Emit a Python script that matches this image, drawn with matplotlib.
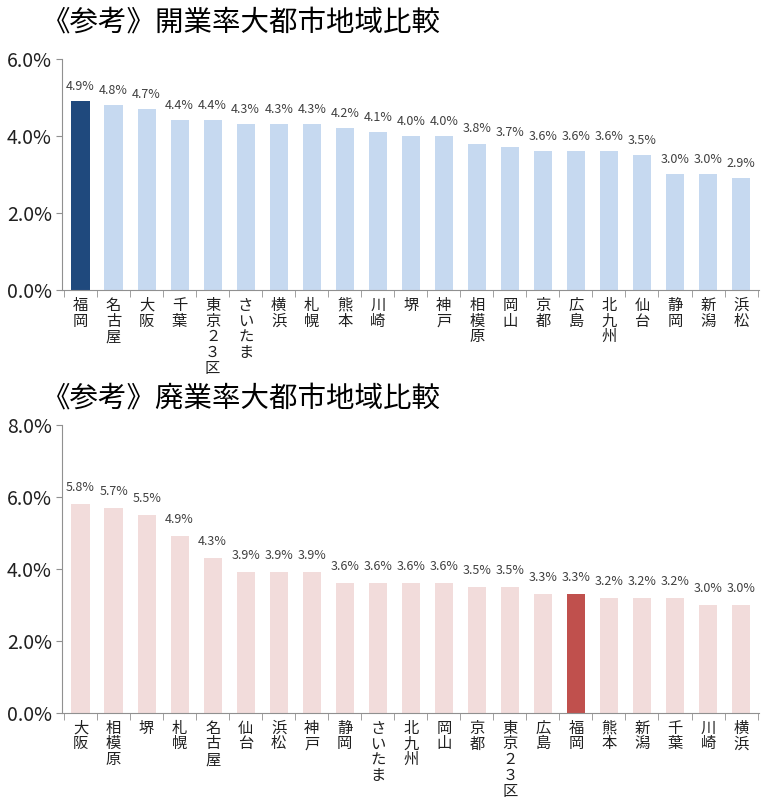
import matplotlib.pyplot as plt
from matplotlib.ticker import FuncFormatter, FixedLocator

plt.rcParams['font.family'] = ['Noto Sans CJK JP', 'DejaVu Sans']

# 開業率
open_cities = ["福岡", "名古屋", "大阪", "千葉", "東京２３区", "さいたま", "横浜", "札幌", "熊本", "川崎",
               "堺", "神戸", "相模原", "岡山", "京都", "広島", "北九州", "仙台", "静岡", "新潟", "浜松"]
open_rates = [4.9, 4.8, 4.7, 4.4, 4.4, 4.3, 4.3, 4.3, 4.2, 4.1,
              4.0, 4.0, 3.8, 3.7, 3.6, 3.6, 3.6, 3.5, 3.0, 3.0, 2.9]

# 廃業率
close_cities = ["大阪", "相模原", "堺", "札幌", "名古屋", "仙台", "浜松", "神戸", "静岡", "さいたま",
                "北九州", "岡山", "京都", "東京２３区", "広島", "福岡", "熊本", "新潟", "千葉", "川崎", "横浜"]
close_rates = [5.8, 5.7, 5.5, 4.9, 4.3, 3.9, 3.9, 3.9, 3.6, 3.6,
               3.6, 3.6, 3.5, 3.5, 3.3, 3.3, 3.2, 3.2, 3.2, 3.0, 3.0]

fig = plt.figure(figsize=(7.7, 8), dpi=100)
ax1 = fig.add_axes([0.081, 0.6375, 0.905, 0.289])
ax2 = fig.add_axes([0.081, 0.109, 0.905, 0.36])


def draw(ax, cities, rates, light, dark, ymax):
    x = list(range(len(cities)))
    colors = [dark if c == "福岡" else light for c in cities]
    ax.bar(x, rates, width=0.55, color=colors)
    for xi, v in zip(x, rates):
        ax.text(xi, v + ymax * 0.035, f"{v:.1f}%", ha="center", va="bottom",
                fontsize=9, color="#404040")
    ax.set_xlim(-0.55, len(cities) - 0.45)
    ax.set_ylim(0, ymax)
    ax.set_yticks([i * 2.0 for i in range(int(ymax / 2) + 1)])
    ax.yaxis.set_major_formatter(FuncFormatter(lambda v, p: f"{v:.1f}%"))
    ax.set_xticks(x)
    ax.set_xticklabels(["\n".join(c) for c in cities], fontsize=11, linespacing=0.9,
                       va="top", color="#202020")
    ax.xaxis.set_minor_locator(FixedLocator([i - 0.5 for i in range(len(cities) + 1)]))
    ax.tick_params(axis="x", which="major", length=0, pad=5)
    ax.tick_params(axis="x", which="minor", length=5, color="#909090")
    ax.tick_params(axis="y", length=4, color="#909090", labelsize=14, labelcolor="#202020")
    for s in ["top", "right"]:
        ax.spines[s].set_visible(False)
    for s in ["left", "bottom"]:
        ax.spines[s].set_color("#909090")


draw(ax1, open_cities, open_rates, "#c6d9f0", "#1f497d", 6.0)
draw(ax2, close_cities, close_rates, "#f2dcdb", "#c0504d", 8.0)

fig.text(0.055, 0.972, "《参考》開業率大都市地域比較", fontsize=20.5, va="center", ha="left")
fig.text(0.055, 0.502, "《参考》廃業率大都市地域比較", fontsize=20.5, va="center", ha="left")

fig.savefig("out.png", dpi=100, facecolor="white")
